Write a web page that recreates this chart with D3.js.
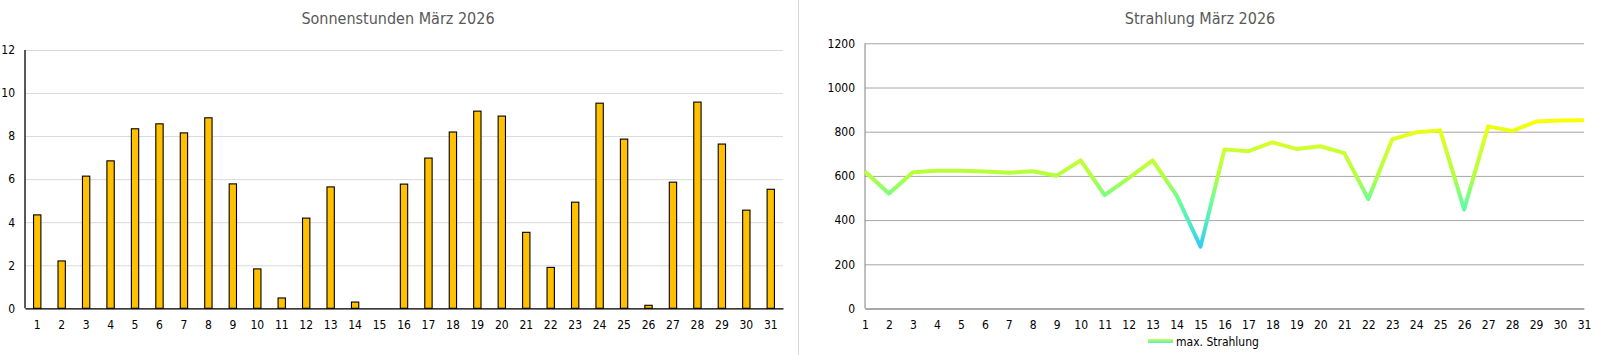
<!DOCTYPE html>
<html>
<head>
<meta charset="utf-8">
<script src="https://cdn.jsdelivr.net/npm/d3@7"></script>
<style>
  body { margin: 0; background: #fff; }
  svg { display: block; font-family: "DejaVu Sans Condensed", "DejaVu Sans", Verdana, sans-serif; }
</style>
</head>
<body>
<svg id="drawing_region"></svg>
<script>
// Tage im März
const days = d3.range(1, 32);
// Sonnenstunden pro Tag
const sunHours = [4.34, 2.2, 6.14, 6.85, 8.34, 8.57, 8.15, 8.85, 5.78, 1.83,
                  0.48, 4.19, 5.64, 0.29, 0, 5.77, 6.98, 8.19, 9.16, 8.93,
                  3.53, 1.9, 4.93, 9.53, 7.86, 0.14, 5.86, 9.58, 7.63, 4.56, 5.53];
// maximale Strahlung pro Tag
const radiation = [620, 520, 617, 623, 623, 620, 614, 621, 601, 670,
                   513, 590, 670, 512, 280, 720, 712, 752, 722, 734,
                   703, 495, 766, 797, 806, 448, 824, 803, 846, 851, 852];
const sunTicks = [0, 2, 4, 6, 8, 10, 12];
const radTicks = [0, 200, 400, 600, 800, 1000, 1200];

const FONT = '"DejaVu Sans Condensed", "DejaVu Sans", sans-serif';

const svg = d3.select('#drawing_region')
    .attr('width', 1598)
    .attr('height', 355);

// Trennlinie zwischen den Diagrammen
svg.append('line')
    .attr('x1', 798.5).attr('x2', 798.5)
    .attr('y1', 0).attr('y2', 355)
    .attr('stroke', '#d9d9d9');

function styleTicks(g) {
    g.selectAll('.tick text')
        .attr('font-size', '12px')
        .attr('fill', '#000')
        .attr('font-family', FONT);
}

// ---------- Sonnenstunden ----------
{
    const xscale = d3.scaleBand()
        .domain(days)
        .range([25, 783])
        .paddingInner(0.7)
        .paddingOuter(0.35);

    const yscale = d3.scaleLinear()
        .domain([0, 12])
        .range([308.3, 50]);

    svg.append('text')
        .attr('x', 398).attr('y', 24)
        .attr('text-anchor', 'middle')
        .attr('fill', '#595959')
        .attr('font-size', '16px')
        .text('Sonnenstunden März 2026');

    const yaxis = svg.append('g')
        .attr('transform', 'translate(25,0)')
        .call(d3.axisLeft(yscale).tickValues(sunTicks).tickSize(-758).tickPadding(10));
    yaxis.select('.domain').remove();
    yaxis.selectAll('.tick line').attr('stroke', '#d9d9d9');
    styleTicks(yaxis);

    svg.append('g').selectAll('rect')
        .data(sunHours)
        .join('rect')
        .attr('x', (d, i) => xscale(days[i]))
        .attr('y', d => yscale(d))
        .attr('width', xscale.bandwidth())
        .attr('height', d => yscale(0) - yscale(d))
        .attr('fill', '#ffc000')
        .attr('stroke', '#000')
        .attr('stroke-width', 1.1);

    const xaxis = svg.append('g')
        .attr('transform', `translate(0,${yscale(0)})`)
        .call(d3.axisBottom(xscale).tickSize(0).tickPadding(12));
    xaxis.select('.domain').attr('stroke', '#000').attr('stroke-width', 1.3);
    styleTicks(xaxis);

    svg.append('line')
        .attr('x1', 25).attr('x2', 25)
        .attr('y1', yscale(12)).attr('y2', yscale(0))
        .attr('stroke', '#000').attr('stroke-width', 1.3);
}

// ---------- Strahlung ----------
{
    const xscale = d3.scalePoint()
        .domain(days)
        .range([865, 1584]);

    const yscale = d3.scaleLinear()
        .domain([0, 1200])
        .range([308.5, 43.3]);

    svg.append('text')
        .attr('x', 1200).attr('y', 24)
        .attr('text-anchor', 'middle')
        .attr('fill', '#595959')
        .attr('font-size', '16px')
        .text('Strahlung März 2026');

    const yaxis = svg.append('g')
        .attr('transform', 'translate(865,0)')
        .call(d3.axisLeft(yscale).tickValues(radTicks).tickFormat(d3.format('d'))
            .tickSize(-719).tickPadding(10));
    yaxis.select('.domain').remove();
    yaxis.selectAll('.tick line').attr('stroke', '#a6a6a6');
    styleTicks(yaxis);

    const xaxis = svg.append('g')
        .attr('transform', `translate(0,${yscale(0)})`)
        .call(d3.axisBottom(xscale).tickSize(0).tickPadding(12));
    xaxis.select('.domain').attr('stroke', '#808080');
    styleTicks(xaxis);

    svg.append('line')
        .attr('x1', 865).attr('x2', 865)
        .attr('y1', yscale(1200)).attr('y2', yscale(0))
        .attr('stroke', '#808080');

    const defs = svg.append('defs');
    const grad = defs.append('linearGradient')
        .attr('id', 'radGrad')
        .attr('gradientUnits', 'userSpaceOnUse')
        .attr('x1', 0).attr('x2', 0)
        .attr('y1', yscale(250)).attr('y2', yscale(870));
    // Farbstopps nach Strahlungswert
    [[250, '#29c5ff'], [380, '#4fe8c8'], [480, '#66ff99'],
     [600, '#b4ff3c'], [720, '#ccff33'], [870, '#ffff00']].forEach(([v, c]) => {
        grad.append('stop')
            .attr('offset', ((v - 250) / (870 - 250) * 100) + '%')
            .attr('stop-color', c);
    });

    const line = d3.line()
        .x((d, i) => xscale(days[i]))
        .y(d => yscale(d));

    svg.append('path')
        .datum(radiation)
        .attr('d', line)
        .attr('fill', 'none')
        .attr('stroke', 'url(#radGrad)')
        .attr('stroke-width', 4)
        .attr('stroke-linejoin', 'round');

    // Legende
    const lg = defs.append('linearGradient')
        .attr('id', 'legGrad')
        .attr('x1', 0).attr('x2', 0).attr('y1', 1).attr('y2', 0);
    lg.append('stop').attr('offset', '0%').attr('stop-color', '#55eebb');
    lg.append('stop').attr('offset', '100%').attr('stop-color', '#ccff55');

    svg.append('rect')
        .attr('x', 1148).attr('y', 339)
        .attr('width', 25).attr('height', 4)
        .attr('fill', 'url(#legGrad)');
    svg.append('text')
        .attr('x', 1176).attr('y', 345.5)
        .attr('font-size', '12px')
        .attr('fill', '#000')
        .text('max. Strahlung');
}
</script>
</body>
</html>
